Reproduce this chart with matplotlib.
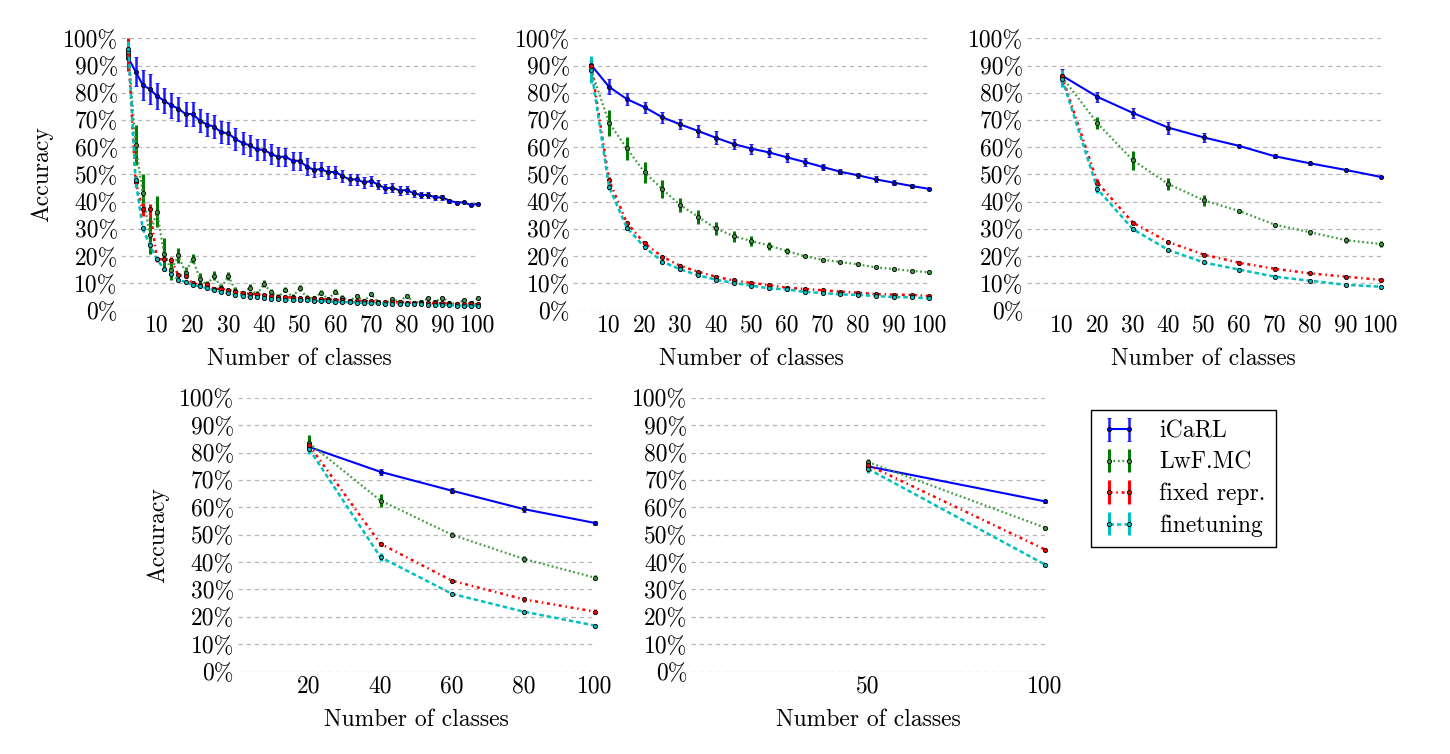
import matplotlib
matplotlib.use('Agg')
import matplotlib.pyplot as plt
import numpy as np

plt.rcParams['font.family'] = ['cmr10', 'DejaVu Serif']
plt.rcParams['font.size'] = 17
plt.rcParams['axes.unicode_minus'] = False
plt.rcParams['mathtext.fontset'] = 'cm'

methods = ['iCaRL', 'LwF.MC', 'fixed repr.', 'finetuning']

# ---------------- panel 1: 2 classes per step ----------------
classes_2 = list(range(2, 101, 2))
icarl_2 = [0.927, 0.878, 0.829, 0.813, 0.788, 0.771, 0.754, 0.742, 0.722, 0.722,
           0.698, 0.683, 0.676, 0.655, 0.651, 0.630, 0.616, 0.607, 0.592, 0.591,
           0.575, 0.565, 0.565, 0.551, 0.550, 0.529, 0.517, 0.520, 0.508, 0.510,
           0.494, 0.482, 0.482, 0.471, 0.476, 0.463, 0.449, 0.452, 0.441, 0.443,
           0.431, 0.425, 0.425, 0.416, 0.416, 0.404, 0.397, 0.398, 0.388, 0.393]
icarl_2_err = [0.030, 0.054, 0.056, 0.055, 0.048, 0.045, 0.045, 0.044, 0.043, 0.045,
               0.042, 0.042, 0.041, 0.041, 0.040, 0.040, 0.039, 0.039, 0.039, 0.039,
               0.036, 0.035, 0.034, 0.033, 0.033, 0.030, 0.028, 0.026, 0.024, 0.023,
               0.022, 0.021, 0.020, 0.020, 0.019, 0.018, 0.017, 0.016, 0.015, 0.015,
               0.013, 0.012, 0.011, 0.010, 0.009, 0.007, 0.005, 0.004, 0.003, 0.003]
lwf_2 = [0.950, 0.608, 0.433, 0.278, 0.364, 0.208, 0.149, 0.203, 0.140, 0.191,
         0.118, 0.095, 0.129, 0.083, 0.128, 0.073, 0.060, 0.085, 0.059, 0.099,
         0.067, 0.050, 0.077, 0.050, 0.083, 0.047, 0.046, 0.066, 0.042, 0.070,
         0.048, 0.036, 0.054, 0.035, 0.060, 0.032, 0.027, 0.042, 0.033, 0.055,
         0.029, 0.033, 0.045, 0.033, 0.048, 0.029, 0.024, 0.039, 0.027, 0.045]
lwf_2_err = [0.040, 0.073, 0.067, 0.070, 0.056, 0.060, 0.038, 0.028, 0.020, 0.017,
             0.020, 0.015, 0.015, 0.015, 0.014, 0.014, 0.013, 0.013, 0.012, 0.012,
             0.011, 0.011, 0.010, 0.010, 0.010, 0.009, 0.009, 0.009, 0.008, 0.008,
             0.008, 0.008, 0.007, 0.007, 0.007, 0.007, 0.006, 0.006, 0.006, 0.006,
             0.006, 0.005, 0.005, 0.005, 0.005, 0.005, 0.005, 0.005, 0.005, 0.005]
fixed_2 = [0.940, 0.474, 0.372, 0.372, 0.188, 0.190, 0.186, 0.130, 0.128, 0.100,
           0.095, 0.097, 0.080, 0.080, 0.077, 0.070, 0.066, 0.062, 0.060, 0.058,
           0.055, 0.052, 0.050, 0.048, 0.046, 0.045, 0.044, 0.042, 0.041, 0.040,
           0.038, 0.037, 0.036, 0.035, 0.034, 0.033, 0.032, 0.031, 0.031, 0.030,
           0.029, 0.029, 0.028, 0.027, 0.027, 0.026, 0.026, 0.025, 0.025, 0.024]
fixed_2_err = [0.060, 0.020, 0.025, 0.020, 0.010, 0.012, 0.010, 0.010, 0.008, 0.006,
               0.005, 0.005, 0.005, 0.005, 0.005, 0.005, 0.005, 0.005, 0.004, 0.004,
               0.004, 0.004, 0.004, 0.004, 0.004, 0.004, 0.004, 0.004, 0.004, 0.004,
               0.003, 0.003, 0.003, 0.003, 0.003, 0.003, 0.003, 0.003, 0.003, 0.003,
               0.003, 0.003, 0.003, 0.003, 0.003, 0.003, 0.003, 0.003, 0.003, 0.003]
fine_2 = [0.960, 0.480, 0.302, 0.241, 0.188, 0.153, 0.136, 0.114, 0.105, 0.095,
          0.089, 0.083, 0.075, 0.069, 0.065, 0.059, 0.055, 0.051, 0.049, 0.047,
          0.044, 0.043, 0.040, 0.039, 0.039, 0.038, 0.037, 0.035, 0.034, 0.033,
          0.032, 0.031, 0.030, 0.029, 0.028, 0.027, 0.026, 0.026, 0.025, 0.024,
          0.023, 0.023, 0.022, 0.021, 0.021, 0.020, 0.019, 0.019, 0.018, 0.018]
fine_2_err = [0.030, 0.015, 0.010, 0.010, 0.006, 0.006, 0.005, 0.005, 0.005, 0.004,
              0.004, 0.004, 0.004, 0.004, 0.004, 0.004, 0.004, 0.004, 0.004, 0.004,
              0.003, 0.003, 0.003, 0.003, 0.003, 0.003, 0.003, 0.003, 0.003, 0.003,
              0.003, 0.003, 0.003, 0.003, 0.003, 0.003, 0.003, 0.003, 0.003, 0.003,
              0.003, 0.003, 0.003, 0.003, 0.003, 0.003, 0.003, 0.003, 0.003, 0.003]

# ---------------- panel 2: 5 classes per step ----------------
classes_5 = list(range(5, 101, 5))
icarl_5 = [0.902, 0.822, 0.777, 0.747, 0.710, 0.684, 0.660, 0.635, 0.612, 0.595,
           0.581, 0.563, 0.546, 0.528, 0.510, 0.497, 0.482, 0.470, 0.458, 0.447]
icarl_5_err = [0.015, 0.027, 0.023, 0.020, 0.020, 0.018, 0.022, 0.023, 0.020, 0.018,
               0.016, 0.016, 0.015, 0.010, 0.010, 0.010, 0.011, 0.010, 0.007, 0.004]
lwf_5 = [0.885, 0.690, 0.596, 0.508, 0.446, 0.388, 0.345, 0.302, 0.274, 0.256,
         0.239, 0.219, 0.200, 0.187, 0.179, 0.170, 0.159, 0.153, 0.146, 0.141]
lwf_5_err = [0.015, 0.047, 0.043, 0.038, 0.033, 0.025, 0.025, 0.023, 0.020, 0.020,
             0.015, 0.012, 0.008, 0.006, 0.005, 0.005, 0.004, 0.004, 0.005, 0.005]
fixed_5 = [0.900, 0.480, 0.323, 0.247, 0.198, 0.165, 0.143, 0.125, 0.111, 0.102,
           0.094, 0.084, 0.080, 0.075, 0.070, 0.066, 0.061, 0.059, 0.058, 0.054]
fixed_5_err = [0.010, 0.010, 0.008, 0.007, 0.007, 0.006, 0.006, 0.006, 0.005, 0.005,
               0.005, 0.005, 0.005, 0.005, 0.004, 0.004, 0.004, 0.004, 0.004, 0.004]
fine_5 = [0.885, 0.455, 0.305, 0.233, 0.180, 0.152, 0.130, 0.114, 0.102, 0.092,
          0.082, 0.078, 0.069, 0.065, 0.060, 0.058, 0.054, 0.050, 0.049, 0.045]
fine_5_err = [0.050, 0.012, 0.008, 0.006, 0.006, 0.005, 0.005, 0.005, 0.004, 0.004,
              0.004, 0.004, 0.004, 0.004, 0.004, 0.004, 0.004, 0.004, 0.004, 0.004]

# ---------------- panel 3: 10 classes per step ----------------
classes_10 = list(range(10, 101, 10))
icarl_10 = [0.863, 0.785, 0.726, 0.672, 0.636, 0.605, 0.567, 0.541, 0.517, 0.491]
icarl_10_err = [0.025, 0.018, 0.018, 0.022, 0.016, 0.005, 0.007, 0.005, 0.005, 0.003]
lwf_10 = [0.858, 0.688, 0.552, 0.465, 0.405, 0.366, 0.316, 0.288, 0.259, 0.245]
lwf_10_err = [0.020, 0.022, 0.034, 0.023, 0.020, 0.007, 0.007, 0.010, 0.010, 0.012]
fixed_10 = [0.860, 0.470, 0.323, 0.252, 0.206, 0.176, 0.154, 0.137, 0.125, 0.113]
fixed_10_err = [0.025, 0.015, 0.006, 0.005, 0.005, 0.004, 0.004, 0.004, 0.004, 0.004]
fine_10 = [0.852, 0.446, 0.299, 0.223, 0.177, 0.151, 0.125, 0.110, 0.095, 0.088]
fine_10_err = [0.030, 0.015, 0.007, 0.005, 0.005, 0.004, 0.004, 0.004, 0.004, 0.004]

# ---------------- panel 4: 20 classes per step ----------------
classes_20 = list(range(20, 101, 20))
icarl_20 = [0.821, 0.730, 0.661, 0.594, 0.543]
icarl_20_err = [0.010, 0.010, 0.010, 0.012, 0.006]
lwf_20 = [0.835, 0.625, 0.500, 0.412, 0.343]
lwf_20_err = [0.030, 0.025, 0.010, 0.012, 0.010]
fixed_20 = [0.828, 0.467, 0.332, 0.264, 0.219]
fixed_20_err = [0.015, 0.007, 0.007, 0.009, 0.008]
fine_20 = [0.814, 0.418, 0.284, 0.219, 0.168]
fine_20_err = [0.020, 0.015, 0.005, 0.005, 0.005]

# ---------------- panel 5: 50 classes per step ----------------
classes_50 = [50, 100]
icarl_50 = [0.750, 0.622]
icarl_50_err = [0.008, 0.005]
lwf_50 = [0.766, 0.526]
lwf_50_err = [0.012, 0.005]
fixed_50 = [0.755, 0.446]
fixed_50_err = [0.012, 0.005]
fine_50 = [0.741, 0.391]
fine_50_err = [0.015, 0.005]

ytick_vals = [i / 10 for i in range(11)]
ytick_labels = [f'{i * 10}%' for i in range(11)]

styles = [
    dict(color='#0000ff', ls='-', lw=1.5, ecolor='#1a1aff', elinewidth=1.8, capsize=1.5),
    dict(color='#3c9a3c', ls=(0, (0.8, 1.2)), lw=1.6, ecolor='#007a00', elinewidth=2.2, capsize=0),
    dict(color='#ff0000', ls=(0, (1.2, 1.5, 0.6, 1.5)), lw=1.8, ecolor='#ff0000', elinewidth=2.2, capsize=0),
    dict(color='#00bfbf', ls=(0, (1.8, 1.2)), lw=1.8, ecolor='#00bfbf', elinewidth=2.2, capsize=0),
]

W, H = 1450, 754
fig = plt.figure(figsize=(W / 100, H / 100), dpi=100)


def make_ax(px0, px1, py0, py1):
    # px0,px1: pixel x for data x=0 and x=100 ; py0,py1: pixel y for y=0 and y=1
    return fig.add_axes([px0 / W, 1 - py0 / H, (px1 - px0) / W, (py0 - py1) / H])


panels = [
    ((121.3, 478.0, 310.7, 38.3), classes_2,
     [(icarl_2, icarl_2_err), (lwf_2, lwf_2_err), (fixed_2, fixed_2_err), (fine_2, fine_2_err)],
     list(range(10, 101, 10)), True),
    ((573.4, 929.3, 310.7, 38.3), classes_5,
     [(icarl_5, icarl_5_err), (lwf_5, lwf_5_err), (fixed_5, fixed_5_err), (fine_5, fine_5_err)],
     list(range(10, 101, 10)), False),
    ((1026.6, 1381.0, 310.7, 38.3), classes_10,
     [(icarl_10, icarl_10_err), (lwf_10, lwf_10_err), (fixed_10, fixed_10_err), (fine_10, fine_10_err)],
     list(range(10, 101, 10)), False),
    ((237.5, 595.0, 671.5, 398.0), classes_20,
     [(icarl_20, icarl_20_err), (lwf_20, lwf_20_err), (fixed_20, fixed_20_err), (fine_20, fine_20_err)],
     list(range(20, 101, 20)), True),
    ((691.0, 1045.0, 671.5, 398.0), classes_50,
     [(icarl_50, icarl_50_err), (lwf_50, lwf_50_err), (fixed_50, fixed_50_err), (fine_50, fine_50_err)],
     [50, 100], False),
]

legend_handles = None
for (px0, px1, py0, py1), xs, series, xticks, ylab in panels:
    ax = make_ax(px0, px1, py0, py1)
    handles = []
    for (vals, errs), st, name in zip(series, styles, methods):
        h = ax.errorbar(xs, vals, yerr=errs, color=st['color'], ls=st['ls'], lw=st['lw'],
                        ecolor=st['ecolor'], elinewidth=st['elinewidth'], capsize=st['capsize'],
                        marker='o', ms=3.0, mfc=st['color'], mec='#111111', mew=0.7,
                        label=name, clip_on=False, zorder=3)
        for art in h.lines:
            if art is not None:
                if isinstance(art, tuple):
                    for a in art:
                        a.set_clip_on(False)
                else:
                    art.set_clip_on(False)
        for col in h[2]:
            col.set_clip_on(False)
        handles.append(h)
    if legend_handles is None:
        legend_handles = handles
    ax.set_xlim(0, 100)
    ax.set_ylim(0, 1)
    ax.set_yticks(ytick_vals)
    ax.set_yticklabels(ytick_labels)
    ax.set_xticks(xticks)
    ax.set_xticklabels([str(t) for t in xticks])
    ax.tick_params(axis='both', length=0, labelsize=17)
    ax.tick_params(axis='y', pad=2.5)
    ax.tick_params(axis='x', pad=3)
    ax.yaxis.grid(True, color='#b8b8b8', ls=(0, (3.5, 3)), lw=0.9)
    ax.set_axisbelow(True)
    for s in ax.spines.values():
        s.set_visible(False)
    xc = (px0 + px1) / 2
    fig.text(xc / W, 1 - (py0 + 54) / H, 'Number of classes', ha='center', va='baseline', fontsize=17)
    if ylab:
        fig.text((px0 - 79.6) / W, 1 - ((py0 + py1) / 2) / H, 'Accuracy', rotation=90,
                 ha='center', va='center', fontsize=17)

leg = fig.legend(legend_handles, methods, loc='upper left',
                 bbox_to_anchor=(1091 / W, 1 - 410 / H), frameon=True, fancybox=False,
                 edgecolor='black', framealpha=1, handlelength=1.45, handletextpad=1.0,
                 labelspacing=0.38, borderpad=0.45, borderaxespad=0, numpoints=2, fontsize=17)
leg.get_frame().set_linewidth(1.0)

fig.savefig('out.png', dpi=100)
